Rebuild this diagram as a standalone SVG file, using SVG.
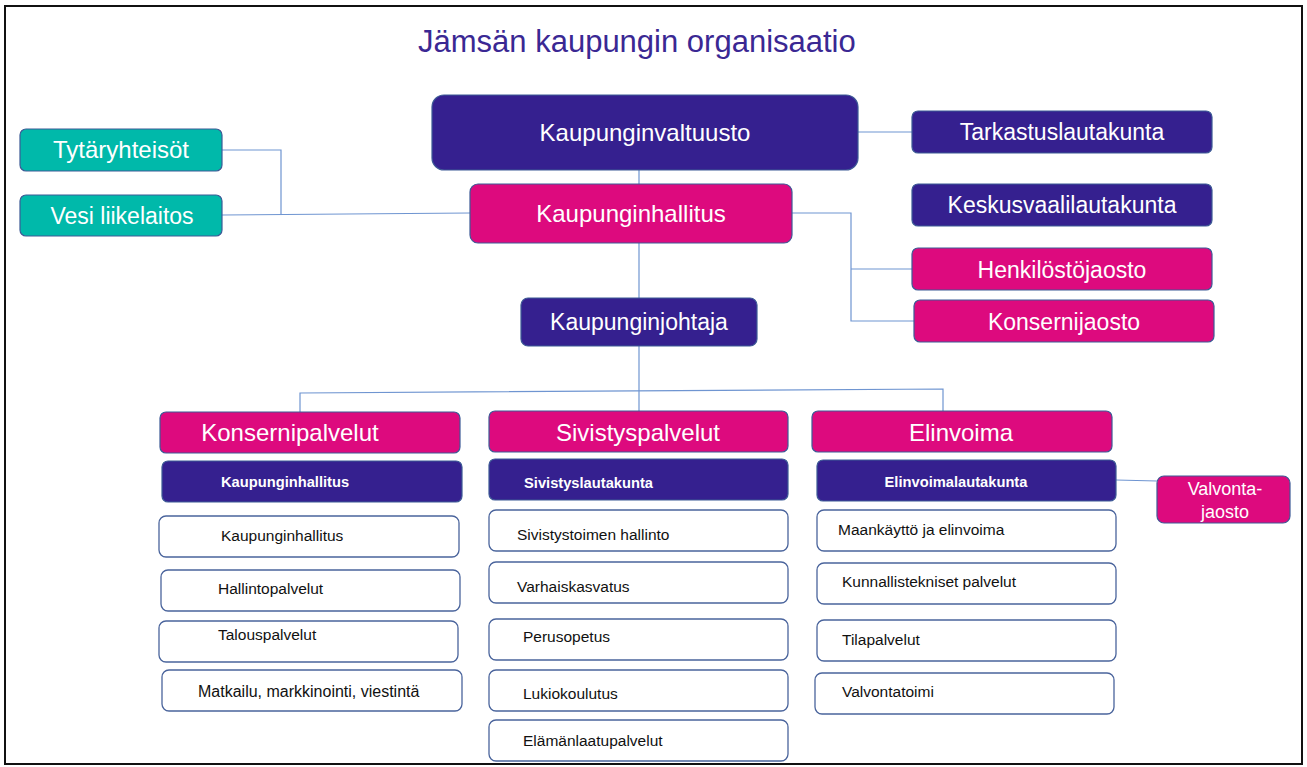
<svg xmlns="http://www.w3.org/2000/svg" width="1307" height="767" viewBox="0 0 1307 767">
<style>
.bg{fill:#ffffff}
.frame{fill:none;stroke:#111111;stroke-width:2}
.pu{fill:#35208f;stroke:#3d5a96;stroke-width:1.2}
.mg{fill:#dd0a7e;stroke:#3d5a96;stroke-width:1.2}
.tl{fill:#00b9aa;stroke:#3d5a96;stroke-width:1.2}
.wh{fill:#ffffff;stroke:#4a649c;stroke-width:1.3}
.t{font-family:"Liberation Sans",Arial,sans-serif;fill:#ffffff;font-size:23px;text-anchor:middle}
.tb{font-family:"Liberation Sans",Arial,sans-serif;fill:#ffffff;font-size:14.7px;font-weight:bold}
.tw{font-family:"Liberation Sans",Arial,sans-serif;fill:#111111;font-size:15.5px}
.title{font-family:"Liberation Sans",Arial,sans-serif;fill:#3a2893;font-size:31px}
.c{fill:none;stroke:#6f95d1;stroke-width:1.2}
</style>
<rect class="bg" x="0" y="0" width="1307" height="767"/>
<rect class="frame" x="5" y="6" width="1297" height="758"/>
<text class="title" x="418" y="52">Jämsän kaupungin organisaatio</text>

<g id="connectors">
<line class="c" x1="639" y1="170" x2="639" y2="184"/>
<line class="c" x1="858" y1="132" x2="912" y2="132"/>
<polyline class="c" points="222,150 281,150 281,214"/>
<line class="c" x1="222" y1="215" x2="470" y2="213"/>
<polyline class="c" points="792,213 851,213 851,321 914,321"/>
<line class="c" x1="851" y1="269" x2="912" y2="269"/>
<line class="c" x1="639" y1="243" x2="639" y2="298"/>
<line class="c" x1="639" y1="346" x2="639" y2="411"/>
<polyline class="c" points="300,412 300,393 943,389 943,411"/>
<line class="c" x1="1116" y1="480" x2="1157" y2="481"/>
</g>

<g id="kaupunginvaltuusto"><rect class="pu" x="432" y="95" width="426" height="75" rx="12"/><text class="t" x="645" y="141" style="font-size:24px">Kaupunginvaltuusto</text></g>
<g id="tarkastuslautakunta"><rect class="pu" x="912" y="111" width="300" height="42" rx="6"/><text class="t" x="1062" y="140">Tarkastuslautakunta</text></g>
<g id="keskusvaalilautakunta"><rect class="pu" x="912" y="184" width="300" height="42" rx="6"/><text class="t" x="1062" y="213">Keskusvaalilautakunta</text></g>
<g id="henkilostojaosto"><rect class="mg" x="912" y="248" width="300" height="42" rx="6"/><text class="t" x="1062" y="278">Henkilöstöjaosto</text></g>
<g id="konsernijaosto"><rect class="mg" x="914" y="300" width="300" height="42" rx="6"/><text class="t" x="1064" y="330">Konsernijaosto</text></g>
<g id="kaupunginhallitus"><rect class="mg" x="470" y="184" width="322" height="59" rx="8"/><text class="t" x="631" y="222" style="font-size:24px">Kaupunginhallitus</text></g>
<g id="tytaryhteisot"><rect class="tl" x="20" y="129" width="202" height="42" rx="6"/><text class="t" x="121" y="158" style="font-size:24px">Tytäryhteisöt</text></g>
<g id="vesi-liikelaitos"><rect class="tl" x="20" y="195" width="202" height="41" rx="6"/><text class="t" x="122" y="224">Vesi liikelaitos</text></g>
<g id="kaupunginjohtaja"><rect class="pu" x="521" y="298" width="236" height="48" rx="7"/><text class="t" x="639" y="330">Kaupunginjohtaja</text></g>

<g id="konsernipalvelut"><rect class="mg" x="160" y="412" width="300" height="41" rx="6"/><text class="t" x="290" y="441" style="font-size:24px">Konsernipalvelut</text></g>
<g id="kh-lautakunta"><rect class="pu" x="162" y="461" width="300" height="41" rx="6"/><text class="tb" x="221" y="487">Kaupunginhallitus</text></g>
<g id="kh-kaupunginhallitus"><rect class="wh" x="159" y="516" width="300" height="41" rx="7"/><text class="tw" x="221" y="541">Kaupunginhallitus</text></g>
<g id="hallintopalvelut"><rect class="wh" x="161" y="570" width="299" height="41" rx="7"/><text class="tw" x="218" y="594">Hallintopalvelut</text></g>
<g id="talouspalvelut"><rect class="wh" x="159" y="621" width="299" height="41" rx="7"/><text class="tw" x="218" y="640">Talouspalvelut</text></g>
<g id="matkailu"><rect class="wh" x="162" y="670" width="300" height="41" rx="7"/><text class="tw" x="198" y="697" style="font-size:16px">Matkailu, markkinointi, viestintä</text></g>

<g id="sivistyspalvelut"><rect class="mg" x="489" y="411" width="299" height="41" rx="6"/><text class="t" x="638" y="441" style="font-size:24px">Sivistyspalvelut</text></g>
<g id="sivistyslautakunta"><rect class="pu" x="489" y="459" width="299" height="41" rx="6"/><text class="tb" x="524" y="488">Sivistyslautakunta</text></g>
<g id="sivistystoimen-hallinto"><rect class="wh" x="489" y="510" width="299" height="41" rx="7"/><text class="tw" x="517" y="540">Sivistystoimen hallinto</text></g>
<g id="varhaiskasvatus"><rect class="wh" x="489" y="562" width="299" height="41" rx="7"/><text class="tw" x="517" y="592">Varhaiskasvatus</text></g>
<g id="perusopetus"><rect class="wh" x="489" y="619" width="299" height="41" rx="7"/><text class="tw" x="523" y="642">Perusopetus</text></g>
<g id="lukiokoulutus"><rect class="wh" x="489" y="670" width="299" height="41" rx="7"/><text class="tw" x="523" y="699">Lukiokoulutus</text></g>
<g id="elamanlaatupalvelut"><rect class="wh" x="489" y="720" width="299" height="41" rx="7"/><text class="tw" x="523" y="746">Elämänlaatupalvelut</text></g>

<g id="elinvoima"><rect class="mg" x="812" y="411" width="300" height="41" rx="6"/><text class="t" x="961" y="441" style="font-size:24px">Elinvoima</text></g>
<g id="elinvoimalautakunta"><rect class="pu" x="817" y="460" width="299" height="41" rx="6"/><text class="tb" x="956" y="487" style="text-anchor:middle">Elinvoimalautakunta</text></g>
<g id="maankaytto"><rect class="wh" x="817" y="510" width="299" height="41" rx="7"/><text class="tw" x="838" y="535">Maankäyttö ja elinvoima</text></g>
<g id="kunnallistekniset"><rect class="wh" x="817" y="563" width="299" height="41" rx="7"/><text class="tw" x="842" y="587">Kunnallistekniset palvelut</text></g>
<g id="tilapalvelut"><rect class="wh" x="817" y="620" width="299" height="41" rx="7"/><text class="tw" x="842" y="645">Tilapalvelut</text></g>
<g id="valvontatoimi"><rect class="wh" x="815" y="673" width="299" height="41" rx="7"/><text class="tw" x="842" y="697">Valvontatoimi</text></g>
<g id="valvontajaosto"><rect class="mg" x="1157" y="476" width="133" height="47" rx="7"/><text class="t" x="1225" y="495" style="font-size:18px">Valvonta-</text><text class="t" x="1225" y="518" style="font-size:18px">jaosto</text></g>
</svg>
